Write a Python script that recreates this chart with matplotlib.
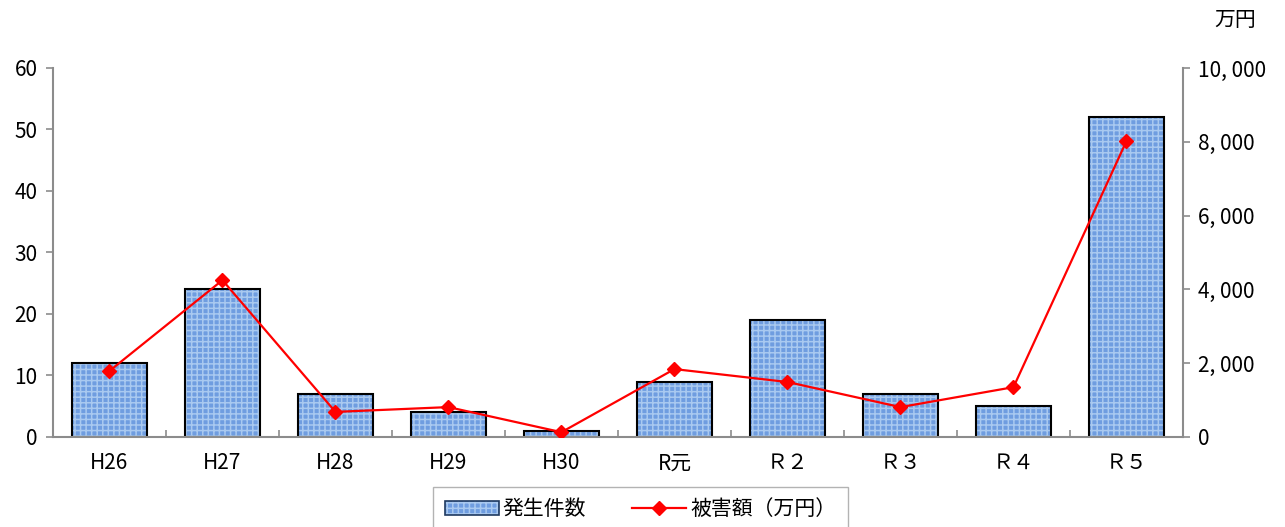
import numpy as np
import matplotlib.pyplot as plt
from matplotlib.patches import Patch
from matplotlib.lines import Line2D
from matplotlib.ticker import FuncFormatter, MultipleLocator, FixedLocator

plt.rcParams['font.family'] = ['Noto Sans CJK JP', 'DejaVu Sans']
plt.rcParams['hatch.linewidth'] = 1.1

years = ['H26', 'H27', 'H28', 'H29', 'H30', 'R元', 'Ｒ２', 'Ｒ３', 'Ｒ４', 'Ｒ５']
cases = [12, 24, 7, 4, 1, 9, 19, 7, 5, 52]
damage = [1790, 4250, 680, 810, 130, 1840, 1490, 810, 1350, 8020]

bar_face = '#6f9de0'
bar_hatch = '#a9c9f0'
axis_gray = '#8c8c8c'

fig = plt.figure(figsize=(12.85, 5.27), dpi=100)
ax = fig.add_axes([0.0412, 0.1708, 0.8794, 0.7002])
ax2 = ax.twinx()

x = np.arange(len(years))
ax.bar(x, cases, width=0.67, color=bar_face, edgecolor=bar_hatch, hatch='+++', linewidth=0)
ax.bar(x, cases, width=0.67, fill=False, edgecolor='black', linewidth=1.5)

ax2.plot(x, damage, color='#ff0000', lw=1.6, marker='D', ms=7)

ax.set_xlim(-0.5, len(years) - 0.5)
ax.set_ylim(0, 60)
ax2.set_ylim(0, 10000)
ax.yaxis.set_major_locator(MultipleLocator(10))
ax2.yaxis.set_major_locator(MultipleLocator(2000))
ax2.yaxis.set_major_formatter(FuncFormatter(lambda v, p: f'{int(v):,}'.replace(',', ', ')))

ax.set_xticks(x)
ax.set_xticklabels(years)
ax.xaxis.set_minor_locator(FixedLocator(np.arange(0.5, len(years) - 1, 1.0)))
ax.tick_params(axis='x', which='major', length=0, pad=11, labelsize=15)
ax.tick_params(axis='x', which='minor', direction='in', length=5, color=axis_gray, width=1.2)
ax.tick_params(axis='y', direction='out', length=5, color=axis_gray, width=1.2, labelsize=15, pad=6)
ax2.tick_params(axis='y', direction='out', length=5, color=axis_gray, width=1.2, labelsize=15, pad=6)

for s in ['top', 'right']:
    ax.spines[s].set_visible(False)
for s in ['top', 'left', 'bottom']:
    ax2.spines[s].set_visible(False)
for a, s in [(ax, 'left'), (ax, 'bottom'), (ax2, 'right')]:
    a.spines[s].set_color(axis_gray)
    a.spines[s].set_linewidth(1.5)

fig.text(0.961, 0.962, '万円', fontsize=15, ha='center', va='center')

bar_handle = (Patch(facecolor=bar_face, edgecolor=bar_hatch, hatch='+++', linewidth=0),
              Patch(fill=False, edgecolor='#1f3a60', linewidth=1.2))
line_handle = Line2D([], [], color='#ff0000', lw=1.6, marker='D', ms=7)
leg = fig.legend([bar_handle, line_handle], ['発生件数', '被害額（万円）'],
                 loc='upper center', bbox_to_anchor=(0.4985, 0.076), ncol=2,
                 fontsize=15, frameon=True, fancybox=False, edgecolor='#a0a0a0',
                 handlelength=2.6, handleheight=0.6, columnspacing=2.2,
                 borderpad=0.55, handletextpad=0.2, borderaxespad=0)
leg.get_frame().set_linewidth(1.0)

fig.savefig('out.png', dpi=100)
